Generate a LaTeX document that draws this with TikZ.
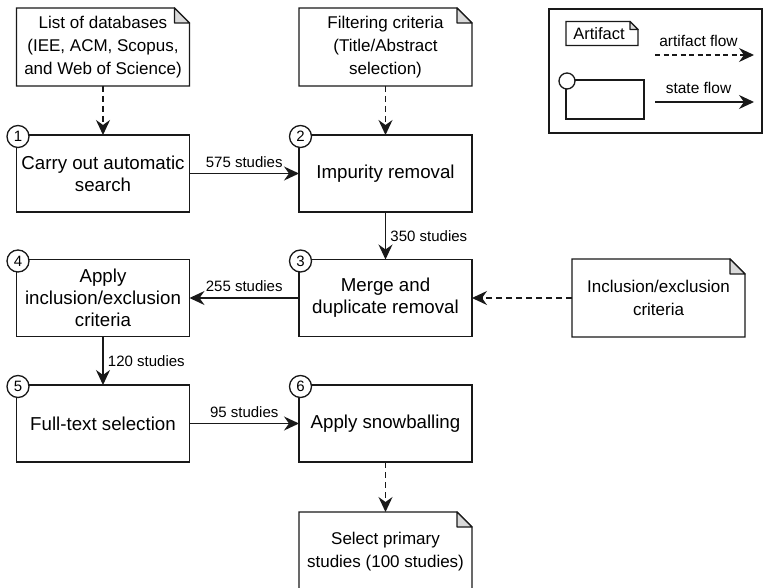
\documentclass[tikz,border=0pt]{standalone}
\usepackage{fontspec}
\setmainfont{Liberation Sans}
\usetikzlibrary{arrows.meta}
\newcommand{\dogear}[2]{%
  \draw[boxline,fill=white] (#1.south west) -- (#1.north west) -- ([xshift=-#2pt]#1.north east) -- ([yshift=-#2pt]#1.north east) -- (#1.south east) -- cycle;
  \draw[boxline,fill=black!15,line join=round] ([xshift=-#2pt]#1.north east) -- ([yshift=-#2pt]#1.north east) -- ([xshift=-#2pt,yshift=-#2pt]#1.north east) -- cycle;}
\tikzset{
  boxline/.style={line width=1.3pt,draw=black!90},
  big/.style={font=\fontsize{18.7}{22}\selectfont},
  mid/.style={font=\fontsize{17}{23}\selectfont},
  small/.style={font=\fontsize{15}{18}\selectfont},
  stepbox/.style={boxline,rectangle,minimum width=173pt,minimum height=77pt,align=center,inner sep=0pt,outer sep=0pt,big},
  artifact/.style={rectangle,minimum width=173pt,minimum height=78pt,align=center,inner sep=0pt,outer sep=0pt,mid},
  numcirc/.style={boxline,circle,fill=white,minimum size=22pt,inner sep=0pt,font=\fontsize{15}{15}\selectfont},
  flow/.style={line width=1.3pt,draw=black!90,-{Stealth[length=15pt,width=14pt,inset=5pt]}},
  aflow/.style={flow,dash pattern=on 6pt off 4pt},
}
\begin{document}
\begin{tikzpicture}[x=1pt,y=-1pt]
\clip (0,0) rectangle (764,588);
\useasboundingbox (0,0) rectangle (764,588);
% artifact outlines
\node[artifact] (a1) at (103,47) {};
\node[artifact] (a2) at (385.5,47) {};
\node[artifact] (a3) at (658.5,298) {};
\node[artifact,minimum height=86pt] (a4) at (385.5,555) {};
\dogear{a1}{15}
\dogear{a2}{15}
\dogear{a3}{15}
\dogear{a4}{15}
% artifact texts
\node[artifact] (a1t) at (a1) {List of databases\\(IEE, ACM, Scopus,\\and Web of Science)};
\node[artifact] (a2t) at (a2) {Filtering criteria\\(Title/Abstract\\selection)};
\node[artifact] (a3t) at (a3) {Inclusion/exclusion\\criteria};
\node[mid,align=center] (a4t) at (385.5,552) {Select primary\\studies (100 studies)};
% steps
\node[stepbox] (s1) at (103,173.5) {Carry out automatic\\search};
\node[stepbox] (s2) at (385.5,173.5) {Impurity removal};
\node[stepbox] (s3) at (385.5,298) {Merge and\\duplicate removal};
\node[stepbox] (s4) at (103,298) {Apply\\inclusion/exclusion\\criteria};
\node[stepbox] (s5) at (103,423.5) {Full-text selection};
\node[stepbox] (s6) at (385.5,423.5) {Apply snowballing};
\foreach \s/\n in {s1/1,s2/2,s3/3,s4/4,s5/5,s6/6}{
  \node[numcirc] (c\n) at ([xshift=1.5pt,yshift=-1.5pt]\s.north west) {\n};
}
% flows
\draw[aflow] (a1) -- (s1);
\draw[aflow] (a2) -- (s2);
\draw[aflow] (a3) -- (s3);
\draw[aflow] (s6) -- (a4.north);
\draw[flow] (s1) -- node[small,above,yshift=2pt] {575 studies} (s2);
\draw[flow] (s2) -- node[small,right,xshift=1pt] {350 studies} (s3);
\draw[flow] (s3) -- node[small,above,yshift=2pt] {255 studies} (s4);
\draw[flow] (s4) -- node[small,right,xshift=1pt] {120 studies} (s5);
\draw[flow] (s5) -- node[small,above,yshift=2pt] {95 studies} (s6);
% legend
\node[boxline,rectangle,minimum width=213pt,minimum height=124pt,outer sep=0pt] (leg) at (655.5,71) {};
\node[rectangle,minimum width=72pt,minimum height=24pt,inner sep=0pt,outer sep=0pt] (la) at (602,33.5) {};
\dogear{la}{8}
\node[font=\fontsize{16.5}{18}\selectfont] (lat) at ([xshift=-3pt]la.center) {Artifact};
\node[boxline,rectangle,minimum width=78pt,minimum height=39pt,outer sep=0pt] (ls) at (605,99.5) {};
\node[boxline,circle,fill=white,minimum size=16pt,inner sep=0pt] (lc) at ([xshift=1pt,yshift=-1pt]ls.north west) {};
\coordinate (d1) at (655,55);
\coordinate (d2) at (754,55);
\coordinate (f1) at (655,102);
\coordinate (f2) at (754,102);
\draw[aflow,dash pattern=on 5pt off 3.5pt] (d1) -- node[above,yshift=4pt,xshift=-6pt,font=\fontsize{15.5}{18}\selectfont] {artifact flow} (d2);
\draw[flow] (f1) -- node[above,yshift=4pt,xshift=-6pt,font=\fontsize{15.5}{18}\selectfont] {state flow} (f2);
\end{tikzpicture}
\end{document}
